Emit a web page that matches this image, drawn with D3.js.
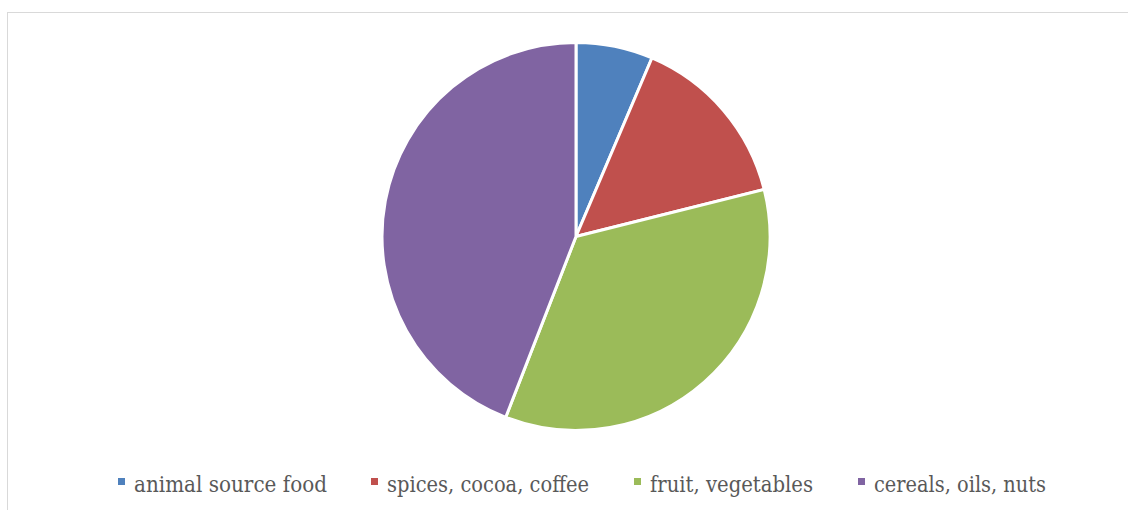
<!DOCTYPE html>
<html lang="en">
<head>
<meta charset="UTF-8">
<title>Food groups pie</title>
<script src="https://d3js.org/d3.v7.min.js"></script>
<style>
  body { margin: 0; background: #fff; }
</style>
</head>
<body>
<svg id="chart" width="1128" height="510"></svg>
<script>
  // shares (percent)
  const categories = ["animal source food", "spices, cocoa, coffee", "fruit, vegetables", "cereals, oils, nuts"]
  const values = [6.4, 14.7, 34.8, 44.1]
  const colors = ["#4f81bd", "#c0504d", "#9bbb59", "#8064a2"]

  const svg = d3.select("#chart")

  // chart area frame (runs off the right and bottom edge)
  svg.append("rect")
    .attr("x", 7.5).attr("y", 12.5)
    .attr("width", 1140).attr("height", 520)
    .attr("fill", "none").attr("stroke", "#d9d9d9").attr("stroke-width", 1)

  const cx = 576, cy = 236.5, r = 194

  const pie = d3.pie().sort(null).value(d => d)
  const arc = d3.arc().innerRadius(0).outerRadius(r)

  svg.append("g").attr("transform", `translate(${cx},${cy})`)
    .selectAll("path")
    .data(pie(values)).enter()
    .append("path")
    .attr("d", arc)
    .attr("fill", (d, i) => colors[i])
    .attr("stroke", "#fff").attr("stroke-width", 3).attr("stroke-linejoin", "round")

  // legend
  const legendX = [118, 371, 634, 858]
  const textW = [193, 202, 163, 172]
  const leg = svg.append("g").selectAll("g")
    .data(categories).enter()
    .append("g")
    .attr("transform", (d, i) => `translate(${legendX[i]},0)`)

  leg.append("rect")
    .attr("x", 0).attr("y", 478)
    .attr("width", 7).attr("height", 7)
    .attr("fill", (d, i) => colors[i])

  leg.append("text")
    .attr("x", 16).attr("y", 491.5)
    .attr("font-family", "'DejaVu Serif', 'Liberation Serif', serif")
    .attr("font-size", 21.5)
    .attr("fill", "#595959")
    .attr("textLength", (d, i) => textW[i])
    .attr("lengthAdjust", "spacingAndGlyphs")
    .text(d => d)
</script>
</body>
</html>
